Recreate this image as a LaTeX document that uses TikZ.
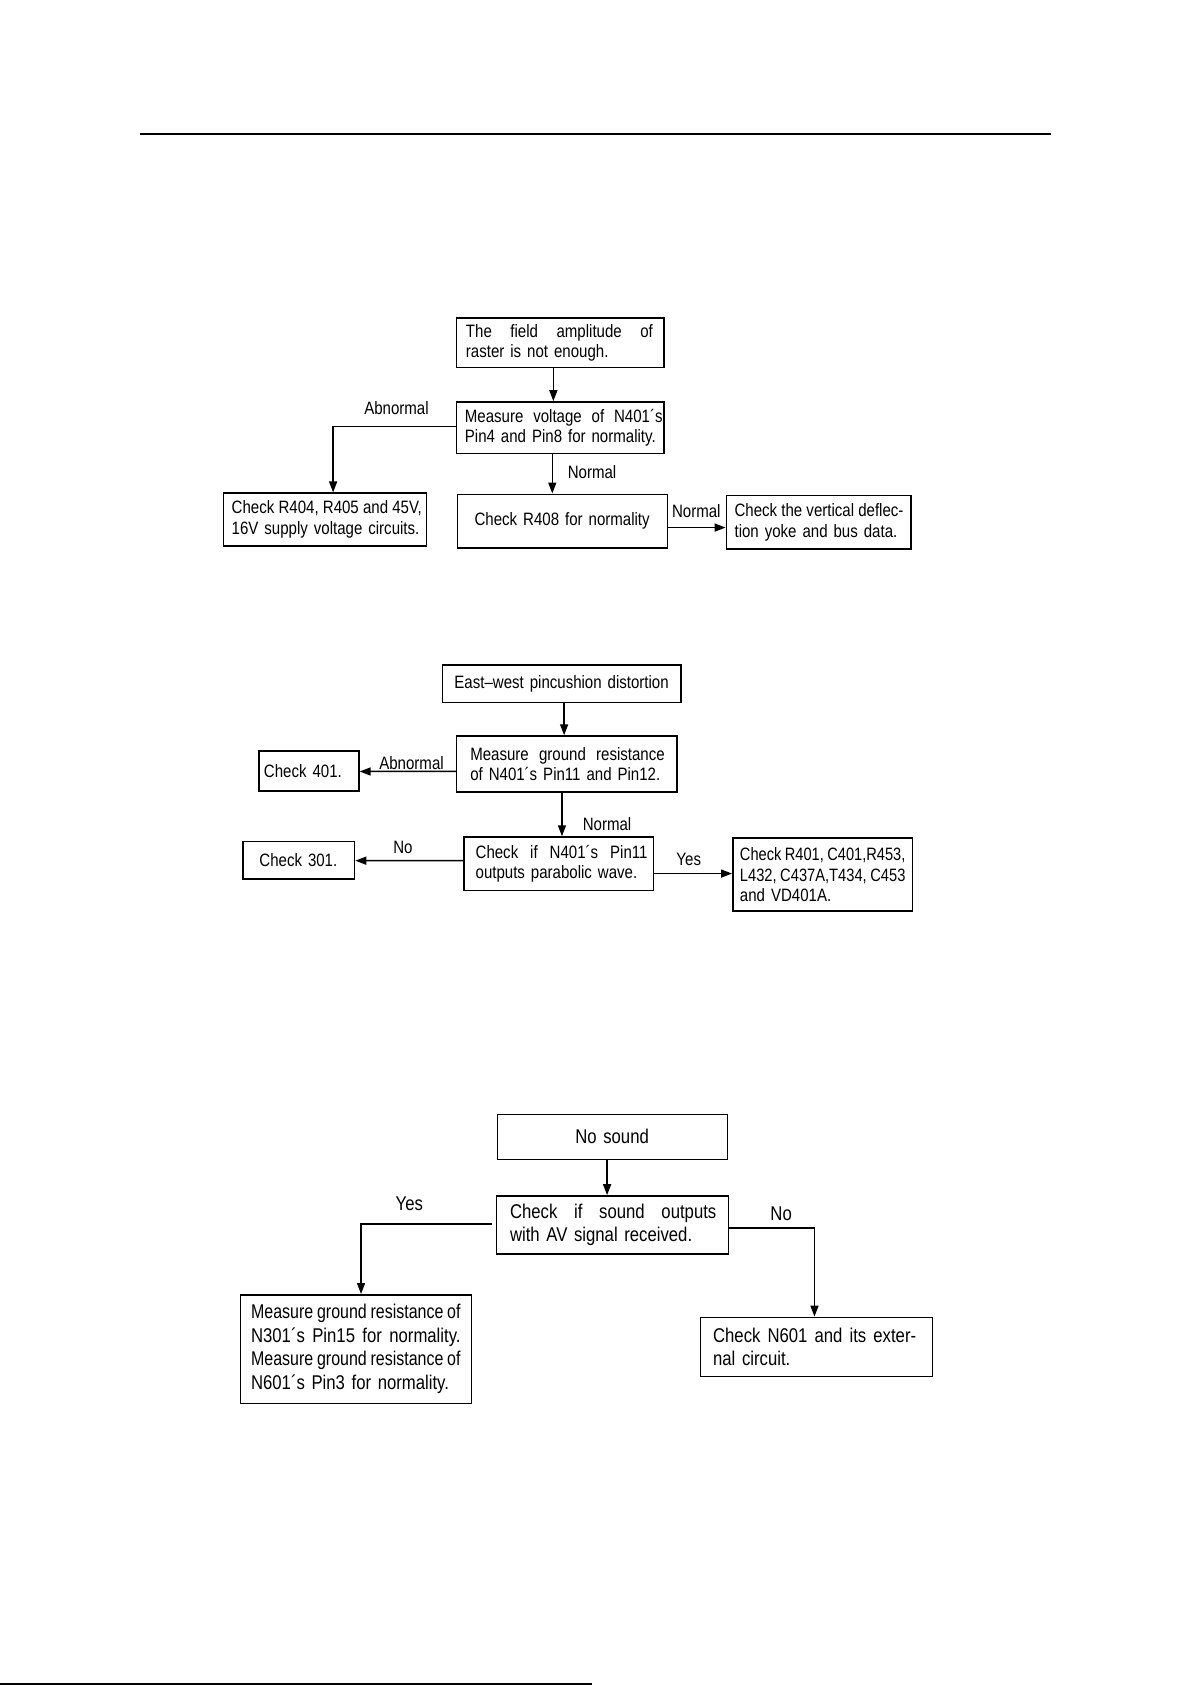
\documentclass[tikz,border=0pt]{standalone}
\usepackage{fontspec}
\usepackage{graphicx}
\setmainfont{Liberation Sans}[FakeStretch=0.84]
\usetikzlibrary{arrows.meta,calc}
\newsavebox\jlbox
\newcommand\justline[1]{\leavevmode\sbox\jlbox{\spaceskip=0.2em #1}%
  \ifdim\wd\jlbox>\flowtw\relax
    \pgfmathsetmacro\jlratio{\flowtw/\the\wd\jlbox}\scalebox{\jlratio}[1]{\usebox\jlbox}%
  \else
    \hbox to \flowtw{\spaceskip=0.233em plus 1fil #1}%
  \fi}
\newcommand\flowbox[9]{%
  \pgfmathsetlengthmacro\flowbw{(#4-#2)*0.54pt}%
  \pgfmathsetlengthmacro\flowbh{(#5-#3)*0.54pt}%
  \pgfmathsetlengthmacro\flowtw{(#4-#2-#6-#7)*0.54pt}%
  \node[box, minimum width=\flowbw, minimum height=\flowbh] (#1) at ({(#2+#4)/2},{(#3+#5)/2}) {};
  \node[txt, #8, text width=\flowtw, anchor=west] (#1t) at ($(#1.west)+(#6,0)$) {#9};
}
\tikzset{
  box/.style={draw, line width=0.75pt, inner sep=0pt},
  txt/.style={inner sep=0pt, align=left},
  arr/.style={line width=0.75pt, -{Triangle[length=5.5pt,width=4pt]}},
  fA/.style={font=\fontsize{9}{10.4}\selectfont},
  fB/.style={font=\fontsize{10}{11.8}\selectfont},
  lab/.style={inner sep=0pt},
}
\begin{document}
\begin{tikzpicture}[x=0.54pt,y=-0.54pt]
\useasboundingbox (0,0) rectangle (1108.5,1568.2);
% rules
\draw[line width=1.1pt] (130,125) -- (978,125);
\draw[line width=1.1pt] (0,1567.4) -- (551,1567.4);

% ---------- diagram 1
\flowbox{b1}{425}{296}{618}{342}{9}{10}{fA}{\justline{The field amplitude of}\\raster is not enough.}
\flowbox{b2}{425}{374}{618}{422}{8}{1}{fA}{\justline{Measure voltage of N401´s}\\Pin4 and Pin8 for normality.}
\flowbox{b3}{208}{459}{397}{508}{8}{4}{fA}{\justline{Check R404, R405 and 45V,}\\16V supply voltage circuits.}
\flowbox{b4}{426}{460}{621}{510}{12}{12}{fA,align=center}{Check R408 for normality}
\flowbox{b5}{676}{461}{848}{511}{8}{8}{fA}{\justline{Check the vertical deflec-}\\tion yoke and bus data.}

\draw[arr] ($(b1.south)+(-6.5,0)$) -- ($(b2.north)+(-6.5,0)$);
\draw[arr] ($(b2.west)+(0,-1)$) -| ($(b3.north)+(7.5,0)$);
\draw[arr] ($(b2.south)+(-7.5,0)$) -- ($(b4.north)+(-9.5,0)$);
\draw[arr] ($(b4.east)+(0,6)$) -- ($(b5.west)+(0,5)$);

\node[lab,fA] (la1) at (369,380) {Abnormal};
\node[lab,fA] (la2) at (551,439) {Normal};
\node[lab,fA] (la3) at (648,476) {Normal};

% ---------- diagram 2
\flowbox{c1}{412}{619}{634}{654}{6}{6}{fA,align=center}{East–west pincushion distortion}
\flowbox{c2}{425}{685}{630}{737}{13}{11}{fA}{\justline{Measure ground resistance}\\of N401´s Pin11 and Pin12.}
\flowbox{c3}{241}{699}{334}{736}{5}{5}{fA}{Check 401.}
\flowbox{c4}{432}{779}{608}{829}{11}{5}{fA}{\justline{Check if N401´s Pin11}\\outputs parabolic wave.}
\flowbox{c5}{226}{783}{330}{818}{6}{6}{fA,align=center}{Check 301.}
\flowbox{c6}{682}{780}{849}{848}{7}{6}{fA}{\justline{Check R401, C401,R453,}\\\justline{L432, C437A,T434, C453}\\and VD401A.}

\draw[arr] ($(c1.south)+(2,0)$) -- ($(c2.north)+(-2.5,0)$);
\draw[arr] ($(c2.west)+(0,7)$) -- ($(c3.east)+(0,0.5)$);
\draw[arr] ($(c2.south)+(-4.5,0)$) -- ($(c4.north)+(3,0)$);
\draw[arr] ($(c4.west)+(0,-3)$) -- ($(c5.east)+(0,0.5)$);
\draw[arr] ($(c4.east)+(0,9)$) -- ($(c6.west)+(0,-1)$);

\node[lab,fA] (la4) at (383,710) {Abnormal};
\node[lab,fA] (la5) at (565,767) {Normal};
\node[lab,fA] (la6) at (375,789) {No};
\node[lab,fA] (la7) at (641,800) {Yes};

% ---------- diagram 3
\flowbox{d1}{463}{1037}{677}{1079}{6}{6}{fB,align=center}{No sound}
\flowbox{d2}{462}{1113}{678}{1167}{13}{11}{fB}{\justline{Check if sound outputs}\\with AV signal received.}
\flowbox{d3}{224}{1205}{439}{1306}{10}{10}{fB}{\justline{Measure ground resistance of}\\\justline{N301´s Pin15 for normality.}\\\justline{Measure ground resistance of}\\N601´s Pin3 for normality.}
\flowbox{d4}{652}{1226}{868}{1281}{12}{15}{fB}{\justline{Check N601 and its exter-}\\nal circuit.}

\draw[arr] ($(d1.south)+(-5,0)$) -- ($(d2.north)+(-5,0)$);
\draw[arr] ($(d2.west)+(-3,-1)$) -| ($(d3.north)+(4.5,0)$);
\draw[arr] ($(d2.east)+(0,3)$) -| ($(d4.north)+(-2,0)$);

\node[lab,fB] (la8) at (381,1120) {Yes};
\node[lab,fB] (la9) at (727,1130) {No};
\end{tikzpicture}
\end{document}
